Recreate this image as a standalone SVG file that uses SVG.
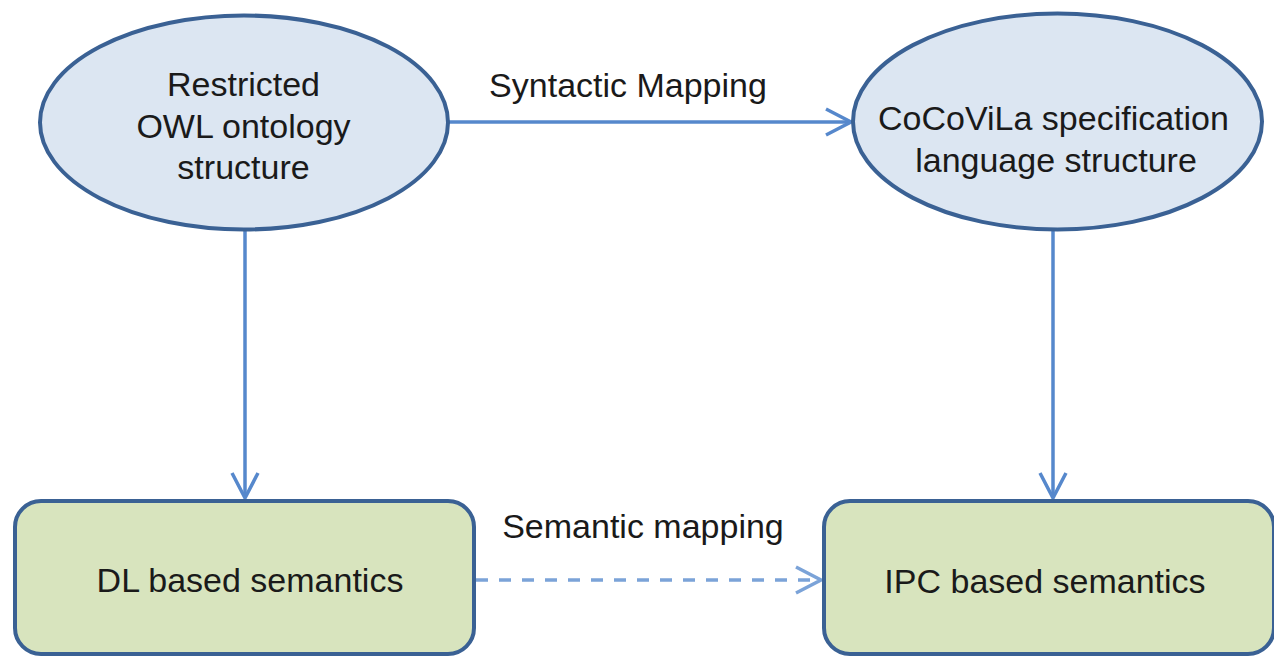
<svg xmlns="http://www.w3.org/2000/svg" width="1274" height="657" viewBox="0 0 1274 657">
<style>
  .ell { fill: #DCE6F2; stroke: #3A6194; stroke-width: 4; }
  .box { fill: #D8E4BE; stroke: #3A6194; stroke-width: 4; }
  .lbl { font-family: "Liberation Sans", Arial, sans-serif; font-size: 34px; fill: #1A1A1A; text-anchor: middle; }
  .conn { fill: none; stroke: #5688CC; stroke-width: 3.5; }
  .dash { fill: none; stroke: #7BA3D8; stroke-width: 3.5; stroke-dasharray: 12 11; }
</style>
<defs>
  <marker id="arr" markerUnits="userSpaceOnUse" markerWidth="32" markerHeight="32" viewBox="0 0 32 32" refX="27" refY="16" orient="auto">
    <path d="M2,3 L27,16 L2,29" fill="none" stroke="#5688CC" stroke-width="3.5"/>
  </marker>
  <marker id="arrd" markerUnits="userSpaceOnUse" markerWidth="32" markerHeight="32" viewBox="0 0 32 32" refX="27" refY="16" orient="auto">
    <path d="M2,3 L27,16 L2,29" fill="none" stroke="#7BA3D8" stroke-width="3.5"/>
  </marker>
</defs>
<rect width="1274" height="657" fill="#FFFFFF"/>
<g id="connectors">
  <line class="conn" x1="448" y1="122" x2="851" y2="122" marker-end="url(#arr)"/>
  <line class="conn" x1="245" y1="230" x2="245" y2="498" marker-end="url(#arr)"/>
  <line class="conn" x1="1053" y1="230" x2="1053" y2="498" marker-end="url(#arr)"/>
  <line class="dash" x1="476" y1="580" x2="821" y2="580" marker-end="url(#arrd)"/>
  <text class="lbl" x="628" y="97">Syntactic Mapping</text>
  <text class="lbl" x="643" y="538">Semantic mapping</text>
</g>
<g id="owl">
  <ellipse class="ell" cx="244" cy="122.5" rx="204" ry="107"/>
  <text class="lbl" x="243.5" y="96">Restricted</text>
  <text class="lbl" x="243.5" y="138">OWL ontology</text>
  <text class="lbl" x="243.5" y="179">structure</text>
</g>
<g id="cocovila">
  <ellipse class="ell" cx="1057.5" cy="121.5" rx="204.5" ry="108"/>
  <text class="lbl" x="1053.5" y="130">CoCoViLa specification</text>
  <text class="lbl" x="1056" y="172">language structure</text>
</g>
<g id="dl">
  <rect class="box" x="15" y="501" width="459" height="153" rx="26" ry="26"/>
  <text class="lbl" x="250" y="592">DL based semantics</text>
</g>
<g id="ipc">
  <rect class="box" x="824" y="501" width="450" height="153" rx="26" ry="26"/>
  <text class="lbl" x="1045" y="593">IPC based semantics</text>
</g>
</svg>
